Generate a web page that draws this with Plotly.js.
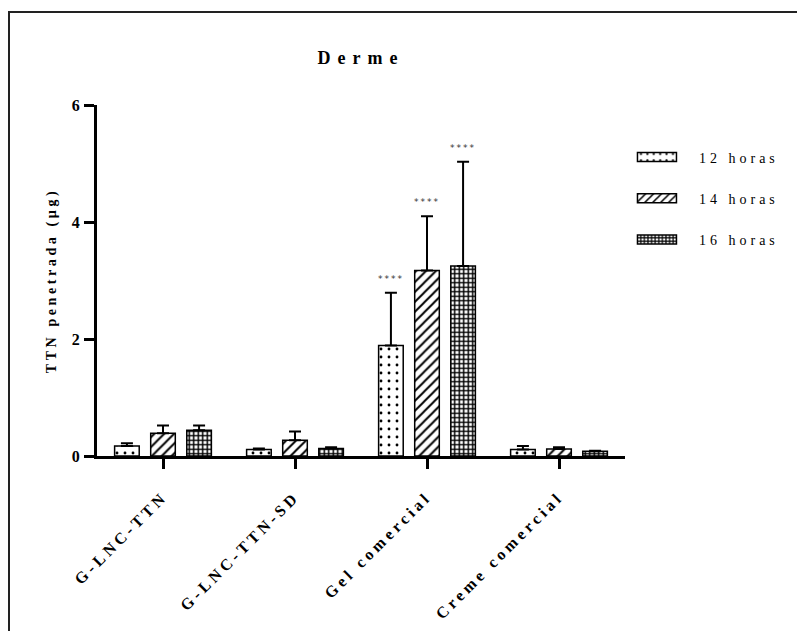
<!DOCTYPE html>
<html>
<head>
<meta charset="utf-8">
<script src="https://cdn.plot.ly/plotly-3.0.1.min.js"></script>
<style>
  html, body { margin: 0; padding: 0; background: #fff; }
  #wrap { position: relative; width: 797px; height: 631px; overflow: hidden; }
  #frame { position: absolute; left: 8px; top: 11px; width: 900px; height: 800px;
           border-left: 2px solid #222; border-top: 2px solid #222; pointer-events: none; z-index: 5; }
  #chart { position: absolute; left: 0; top: 0; width: 797px; height: 631px; }
  .xtick text { letter-spacing: 3.8px; }
  .ytick text { letter-spacing: 1px; }
  .ytitle { letter-spacing: 3.6px; }
  .gtitle { letter-spacing: 7px; }
  .legendtext { letter-spacing: 4px; }
  .annotation-text { letter-spacing: 2px; }
</style>
</head>
<body>
<div id="wrap">
  <div id="chart"></div>
  <div id="frame"></div>
</div>
<script>
// ---- data ----
const categories = ["G-LNC-TTN", "G-LNC-TTN-SD", "Gel comercial", "Creme comercial"];
const seriesNames = ["12 horas", "14 horas", "16 horas"];
const mean12 = [0.17, 0.11, 1.89, 0.11];
const sd12   = [0.05, 0.02, 0.90, 0.06];
const mean14 = [0.39, 0.27, 3.17, 0.12];
const sd14   = [0.13, 0.15, 0.93, 0.03];
const mean16 = [0.44, 0.13, 3.25, 0.08];
const sd16   = [0.08, 0.02, 1.78, 0.01];
const sigLabel12 = ["", "", "****", ""];
const sigLabel14 = ["", "", "****", ""];
const sigLabel16 = ["", "", "****", ""];
const yTicks = [0, 2, 4, 6];

const means = [mean12, mean14, mean16];
const sds = [sd12, sd14, sd16];
const sigs = [sigLabel12, sigLabel14, sigLabel16];
const patterns = [
  {shape: ".", size: 8, solidity: 0.1, fgcolor: "#000", bgcolor: "#fff", fillmode: "replace"},
  {shape: "/", size: 7, solidity: 0.28, fgcolor: "#000", bgcolor: "#fff", fillmode: "replace"},
  {shape: "+", size: 4.5, solidity: 0.55, fgcolor: "#000", bgcolor: "#fff", fillmode: "replace"}
];

const traces = seriesNames.map((name, i) => ({
  type: "bar",
  name: name,
  x: categories,
  y: means[i],
  legendgroup: "g" + i,
  marker: { color: "#fff", pattern: patterns[i], line: { color: "#000", width: 1.5 } },
  error_y: { type: "data", symmetric: false, array: sds[i], arrayminus: sds[i].map(() => 0),
             color: "#000", thickness: 2, width: 6 }
}));

const shifts = [-36, 0, 36];
const annotations = [];
sigs.forEach((lab, i) => {
  lab.forEach((t, j) => {
    if (t) annotations.push({
      x: categories[j], y: means[i][j] + sds[i][j], xref: "x", yref: "y",
      text: t, showarrow: false, xshift: shifts[i], yshift: 14, yanchor: "middle",
      font: { family: "DejaVu Sans", size: 9, color: "#333" }
    });
  });
});

const layout = {
  width: 797, height: 631,
  margin: { l: 97, r: 172, t: 105, b: 175 },
  paper_bgcolor: "#fff", plot_bgcolor: "#fff",
  barmode: "group", bargap: 0.18, bargroupgap: 0.318,
  showlegend: true,
  title: { text: "Derme", x: 0.453, xanchor: "center", y: 0.908, yanchor: "middle",
           font: { family: "Liberation Serif", size: 18, color: "#000", weight: "bold" } },
  font: { family: "Liberation Serif", color: "#000" },
  xaxis: {
    type: "category", range: [-0.5, 3.5], showline: true, linewidth: 3, linecolor: "#000",
    ticks: "outside", ticklen: 10, tickwidth: 3, tickcolor: "#000", tickangle: -45,
    ticklabelstandoff: 12,
    tickfont: { family: "Liberation Serif", size: 16, color: "#000", weight: "bold" },
    showgrid: false, zeroline: false, fixedrange: true
  },
  yaxis: {
    range: [0, 6], tickvals: yTicks, ticktext: yTicks.map(String),
    showline: true, linewidth: 3, linecolor: "#000",
    ticks: "outside", ticklen: 10, tickwidth: 3, tickcolor: "#000",
    ticklabelstandoff: 0,
    tickfont: { family: "Liberation Serif", size: 16, color: "#000", weight: "bold" },
    showgrid: false, zeroline: false, fixedrange: true,
    title: { text: "TTN penetrada (µg)", standoff: 12,
             font: { family: "Liberation Serif", size: 14, color: "#000", weight: "bold" } }
  },
  legend: {
    x: 1 - 0.019, y: 0.896, xanchor: "left", yanchor: "top",
    traceorder: "grouped", tracegroupgap: 20, itemwidth: 74,
    font: { family: "Liberation Serif", size: 14, color: "#000" },
    bgcolor: "rgba(0,0,0,0)"
  },
  annotations: annotations
};

Plotly.newPlot("chart", traces, layout, { displayModeBar: false, staticPlot: true }).then(gd => {
  // widen legend swatches to match the reference's wide rectangular keys
  gd.querySelectorAll(".legend .legendpoints path").forEach(p => {
    p.setAttribute("d", "M19.5,4.5H-19.5V-4.5H19.5Z");
  });
});
</script>
</body>
</html>
